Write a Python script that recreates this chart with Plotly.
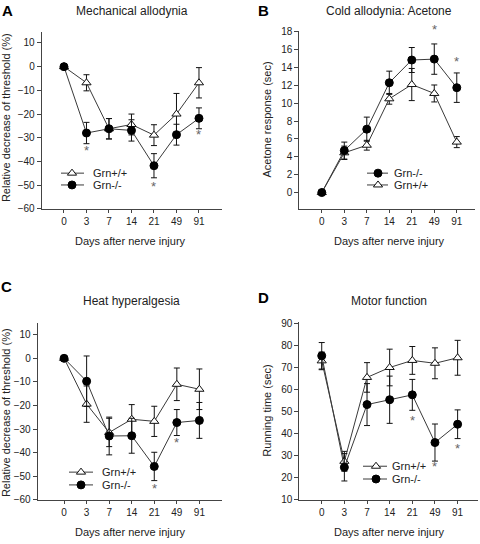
import plotly.graph_objects as go

# ---------------- data ----------------
days = ["0", "3", "7", "14", "21", "49", "91"]

# A: Mechanical allodynia (relative decrease of threshold, %)
a_wt = [0, -6.8, -26.2, -24.4, -28.9, -20.0, -6.8]
a_wt_err = [0, 3.4, 4.3, 4.4, 4.4, 8.7, 6.4]
a_ko = [0, -28.0, -26.2, -26.9, -41.8, -28.7, -21.8]
a_ko_err = [0, 4.5, 4.3, 4.5, 5.1, 4.4, 4.4]
a_star_x = ["3", "21", "91"]
a_star_y = [-36.5, -51.7, -30.0]

# B: Cold allodynia: Acetone (sec)
b_ko = [0, 4.7, 7.1, 12.3, 14.85, 14.95, 11.75]
b_ko_err = [0, 0.95, 1.35, 1.3, 1.4, 1.7, 1.65]
b_wt = [0, 4.45, 5.3, 10.5, 12.1, 11.1, 5.65]
b_wt_err = [0, 0.75, 0.55, 0.6, 1.8, 0.95, 0.62]
b_star_x = ["49", "91"]
b_star_y = [17.9, 14.3]

# C: Heat hyperalgesia (relative decrease of threshold, %)
c_wt = [0, -19.4, -31.4, -25.8, -26.7, -11.0, -13.1]
c_wt_err = [0, 7.7, 6.0, 6.2, 6.4, 6.9, 8.6]
c_ko = [0, -9.7, -32.9, -32.8, -45.8, -27.2, -26.3]
c_ko_err = [0, 10.7, 8.0, 7.4, 6.0, 5.5, 7.6]
c_star_x = ["21", "49"]
c_star_y = [-56.4, -37.0]

# D: Motor function (running time, sec)
d_wt = [73.0, 27.5, 65.5, 70.0, 73.2, 71.9, 74.4]
d_wt_err = [4.0, 4.5, 6.7, 8.3, 6.3, 7.0, 7.9]
d_ko = [75.3, 24.8, 53.2, 55.4, 57.6, 36.0, 44.3]
d_ko_err = [6.0, 6.2, 9.5, 10.7, 7.0, 8.4, 6.5]
d_star_x = ["21", "49", "91"]
d_star_y = [44.6, 23.8, 32.0]

WT_NAME = "Grn+/+"
KO_NAME = "Grn-/-"

# ---------------- styles ----------------
W, H = 480, 544
FONT = "Liberation Sans, Arial, sans-serif"
LINE_C = "#3a3a3a"
AX_C = "#444444"
TXT_C = "#222222"
STAR_C = "#666666"


def px_x(v):
    return v / W


def px_y(v):
    return 1 - v / H


wt_style = dict(
    mode="lines+markers",
    line=dict(color=LINE_C, width=1),
    marker=dict(symbol="triangle-up", size=8, color="white",
                line=dict(color="#111111", width=1)),
)
ko_style = dict(
    mode="lines+markers",
    line=dict(color=LINE_C, width=1),
    marker=dict(symbol="circle", size=8, color="#000000",
                line=dict(color="#000000", width=1)),
)
err_style = dict(type="data", visible=True, color="#111111", thickness=1, width=3)

fig = go.Figure()
annotations = []

# legend samples first (drawn on a full-page overlay axis, pixel units)
# (line x0, line x1, marker x, text x, row1 y, row2 y, first row is ko?)
legend_pos = [
    (61, 84, 72, 91, 172, 184, False),
    (367, 388, 378, 392, 172, 184, True),
    (69, 93, 81, 100, 476, 489, False),
    (363, 387, 376, 390, 470, 483, False),
]
for (lx0, lx1, mx, tx, r1, r2, ko_first) in legend_pos:
    rows = [(KO_NAME, ko_style, r1), (WT_NAME, wt_style, r2)] if ko_first else \
           [(WT_NAME, wt_style, r1), (KO_NAME, ko_style, r2)]
    for name, st, ry in rows:
        fig.add_trace(go.Scatter(x=[lx0, lx1], y=[ry, ry], xaxis="x5", yaxis="y5",
                                 mode="lines", line=st["line"], showlegend=False,
                                 hoverinfo="skip"))
        fig.add_trace(go.Scatter(x=[mx], y=[ry], xaxis="x5", yaxis="y5",
                                 mode="markers", marker=st["marker"], showlegend=False,
                                 hoverinfo="skip"))
        annotations.append(dict(x=px_x(tx), y=px_y(ry), xref="paper", yref="paper",
                                text=name, showarrow=False, xanchor="left",
                                yanchor="middle", font=dict(size=11, color=TXT_C, family=FONT)))

panels = [
    ("x", "y", a_wt, a_wt_err, a_ko, a_ko_err, a_star_x, a_star_y),
    ("x2", "y2", b_wt, b_wt_err, b_ko, b_ko_err, b_star_x, b_star_y),
    ("x3", "y3", c_wt, c_wt_err, c_ko, c_ko_err, c_star_x, c_star_y),
    ("x4", "y4", d_wt, d_wt_err, d_ko, d_ko_err, d_star_x, d_star_y),
]

for xa, ya, wt, wte, ko, koe, sx, sy in panels:
    fig.add_trace(go.Scatter(x=days, y=wt, name=WT_NAME, xaxis=xa, yaxis=ya,
                             error_y=dict(array=wte, **err_style),
                             showlegend=False, **wt_style))
    fig.add_trace(go.Scatter(x=days, y=ko, name=KO_NAME, xaxis=xa, yaxis=ya,
                             error_y=dict(array=koe, **err_style),
                             showlegend=False, **ko_style))
    # significance asterisks (category position given as index)
    for xv, yv in zip(sx, sy):
        annotations.append(dict(x=days.index(xv), y=yv, xref=xa, yref=ya, text="*",
                                showarrow=False, xanchor="center", yanchor="middle",
                                yshift=3, font=dict(size=13, color=STAR_C, family=FONT)))


# ---------------- axes ----------------
def xaxis(dom, rng, anchor):
    return dict(domain=dom, range=rng, type="category", anchor=anchor, showline=True,
                linecolor=AX_C, linewidth=1, ticks="outside", ticklen=3, tickcolor=AX_C,
                showgrid=False, zeroline=False,
                tickfont=dict(size=10, color=TXT_C, family=FONT), fixedrange=True)


def yaxis(dom, rng, tick0, dtick, anchor):
    return dict(domain=dom, range=rng, anchor=anchor, showline=True, linecolor=AX_C,
                linewidth=1, ticks="outside", ticklen=4, tickcolor=AX_C, showgrid=False,
                zeroline=False, tick0=tick0, dtick=dtick,
                tickfont=dict(size=10, color=TXT_C, family=FONT), fixedrange=True)


layout = dict(
    width=W, height=H,
    margin=dict(l=0, r=0, t=0, b=0),
    paper_bgcolor="white", plot_bgcolor="rgba(0,0,0,0)",
    font=dict(family=FONT, color=TXT_C),
    showlegend=False,
    xaxis=xaxis([px_x(41.7), px_x(221.7)], [-0.99, 7.01], "y"),
    yaxis=yaxis([px_y(208.3), px_y(28.3)], [-60, 14.7], -60, 10, "x"),
    xaxis2=xaxis([px_x(299.3), px_x(475)], [-1.0, 6.81], "y2"),
    yaxis2=yaxis([px_y(208.3), px_y(27)], [-1.83, 18.15], 0, 2, "x2"),
    xaxis3=xaxis([px_x(37.7), px_x(221.7)], [-1.17, 6.99], "y3"),
    yaxis3=yaxis([px_y(504.3), px_y(324.3)], [-60, 15], -60, 10, "x3"),
    xaxis4=xaxis([px_x(299.3), px_x(478)], [-0.99, 6.9], "y4"),
    yaxis4=yaxis([px_y(504.3), px_y(323.7)], [10, 90.45], 10, 10, "x4"),
    xaxis5=dict(domain=[0, 1], range=[0, W], visible=False, fixedrange=True, anchor="y5"),
    yaxis5=dict(domain=[0, 1], range=[H, 0], visible=False, fixedrange=True, anchor="x5"),
)


# ---------------- texts ----------------
def ann(x, y, text, size, bold=False, angle=0, xanchor="center"):
    return dict(x=px_x(x), y=px_y(y), xref="paper", yref="paper",
                text=f"<b>{text}</b>" if bold else text,
                showarrow=False, xanchor=xanchor, yanchor="middle", textangle=angle,
                font=dict(size=size, color="#000000" if bold else TXT_C, family=FONT))


annotations += [
    ann(0, 7, "A", 15, bold=True, xanchor="left"),
    ann(256, 7, "B", 15, bold=True, xanchor="left"),
    ann(-1, 287, "C", 15, bold=True, xanchor="left"),
    ann(256, 298, "D", 15, bold=True, xanchor="left"),
    ann(131.7, 7, "Mechanical allodynia", 12),
    ann(389, 7, "Cold allodynia: Acetone", 12),
    ann(131.7, 302, "Heat hyperalgesia", 12),
    ann(389, 302, "Motor function", 12),
    ann(130, 241, "Days after nerve injury", 11),
    ann(389.5, 241, "Days after nerve injury", 11),
    ann(130, 537, "Days after nerve injury", 11),
    ann(389.5, 537, "Days after nerve injury", 11),
    ann(6, 116, "Relative decrease of threshold (%)", 11, angle=-90),
    ann(267.5, 118, "Acetone response (sec)", 11, angle=-90),
    ann(6, 416, "Relative decrease of threshold (%)", 11, angle=-90),
    ann(267.5, 414, "Running time (sec)", 11, angle=-90),
]
layout["annotations"] = annotations

fig.update_layout(**layout)
fig.write_html("out.html", config={"displayModeBar": False, "staticPlot": True},
               post_script="document.body.style.margin='0';document.body.style.padding='0';")
